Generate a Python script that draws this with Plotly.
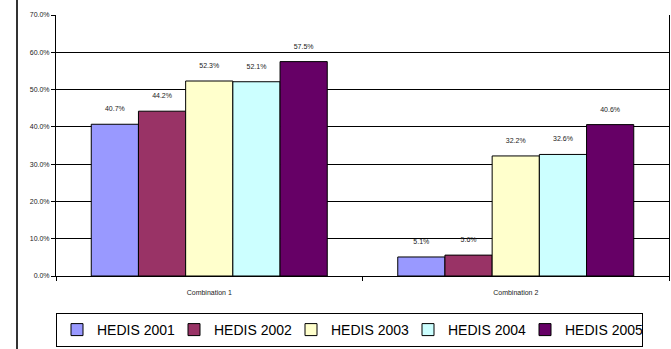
import plotly.graph_objects as go

categories = ["Combination 1", "Combination 2"]
series_names = ["HEDIS 2001", "HEDIS 2002", "HEDIS 2003", "HEDIS 2004", "HEDIS 2005"]
hedis_2001 = [40.7, 5.1]
hedis_2002 = [44.2, 5.6]
hedis_2003 = [52.3, 32.2]
hedis_2004 = [52.1, 32.6]
hedis_2005 = [57.5, 40.6]
colors = ["#9999FF", "#993366", "#FFFFCC", "#CCFFFF", "#660066"]

series_values = [hedis_2001, hedis_2002, hedis_2003, hedis_2004, hedis_2005]

fig = go.Figure()
for name, vals, col in zip(series_names, series_values, colors):
    fig.add_trace(go.Bar(
        x=categories, y=vals, name=name,
        marker=dict(color=col, line=dict(color="black", width=1)),
        text=[f"{v:.1f}%<br> " for v in vals],
        textposition="outside",
        outsidetextfont=dict(size=7, color="#222222", family="Liberation Sans, Arial"),
        textfont=dict(size=7, color="#222222", family="Liberation Sans, Arial"),
        cliponaxis=False,
    ))

W, H = 671, 349
L, R, T, B = 56, 2, 15, 73
plot_w = W - L - R
plot_h = H - T - B

fig.update_layout(
    width=W, height=H,
    margin=dict(l=L, r=R, t=T, b=B, autoexpand=False),
    paper_bgcolor="white", plot_bgcolor="white",
    barmode="group", bargap=0.23, bargroupgap=0,
    font=dict(family="Liberation Sans, Arial", color="#222222"),
    showlegend=True,
    legend=dict(
        orientation="h", x=0, xanchor="left",
        y=(276 - 347) / plot_h, yanchor="bottom",
        bordercolor="black", borderwidth=1,
        font=dict(size=14, color="black"),
        itemwidth=30, tracegroupgap=0,
        entrywidth=72, entrywidthmode="pixels",
    ),
    xaxis=dict(
        showline=True, linecolor="black", linewidth=1,
        ticks="outside", tickson="boundaries", ticklen=4, tickcolor="black",
        tickfont=dict(size=7, color="#222222"),
        ticklabelstandoff=10,
        showgrid=False, mirror=False,
    ),
    yaxis=dict(
        range=[0, 70], dtick=10, tick0=0,
        tickformat=".1f", ticksuffix="%",
        showline=True, linecolor="black", linewidth=1, mirror=True,
        ticks="outside", ticklen=4, tickcolor="black",
        tickfont=dict(size=7, color="#222222"),
        showgrid=True, gridcolor="black", gridwidth=1,
        zeroline=False,
    ),
    shapes=[dict(
        type="line", xref="paper", yref="paper",
        x0=(17 - L) / plot_w, x1=(17 - L) / plot_w,
        y0=-(B + 5) / plot_h, y1=(plot_h + T + 5) / plot_h,
        line=dict(color="#333333", width=2),
    )],
)

fig.write_html("out.html")
